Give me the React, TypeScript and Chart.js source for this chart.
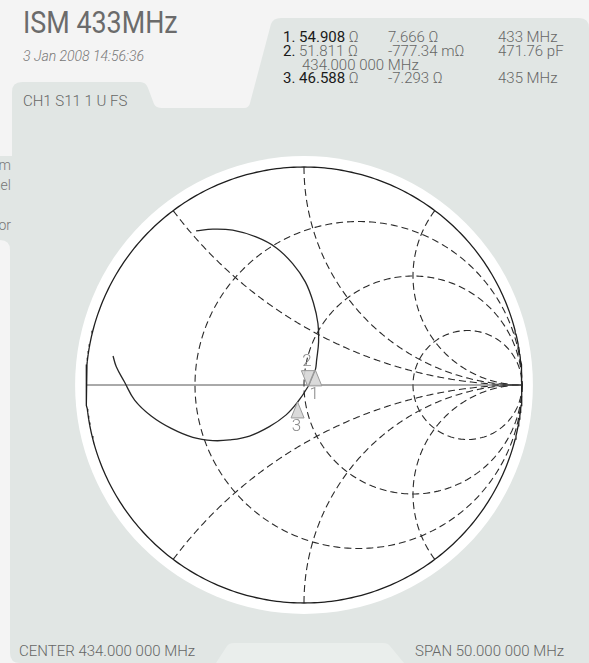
import React, { useEffect, useRef } from "react";
import { Chart, registerables } from "chart.js";

Chart.register(...registerables);

// ---------- data ----------
const Z0 = 50;
const resistanceCircles = [1 / 3, 1, 3];
const reactanceArcs = [0.5, 1, 2, -0.5, -1, -2];

const traceRe = [-0.495, -0.418, -0.327, -0.22, -0.128, -0.052, 0.006, 0.044, 0.064, 0.067, 0.058, 0.052, 0.036, 0.018, -0.029, -0.082, -0.159, -0.25, -0.342, -0.418, -0.51, -0.609, -0.701, -0.777, -0.824, -0.861, -0.876];
const traceIm = [0.707, 0.715, 0.71, 0.679, 0.63, 0.557, 0.473, 0.374, 0.282, 0.198, 0.115, 0.069, 0.032, -0.008, -0.078, -0.137, -0.191, -0.234, -0.252, -0.255, -0.24, -0.199, -0.142, -0.069, 0.015, 0.084, 0.133];

// markers (impedance in ohms)
const markerLabels = ["1", "2", "3"];
const markerR = [54.908, 51.811, 46.588];
const markerX = [7.666, -0.77734, -7.293];
const markerUp = [true, false, true];

const titleText = "ISM 433MHz";
const dateText = "3 Jan 2008 14:56:36";
const channelText = "CH1 S11 1 U FS";
const centerText = "CENTER 434.000 000 MHz";
const spanText = "SPAN 50.000 000 MHz";
const sideTexts = ["Diagram", "Channel", "", "Monitor"];

// ---------- helpers ----------
function gamma(r: number, x: number) {
  const d = (r + 1) * (r + 1) + x * x;
  return { x: (r * r - 1 + x * x) / d, y: (2 * x) / d };
}

function rCircle(r: number) {
  const pts: { x: number; y: number }[] = [];
  const n = 400;
  for (let i = 1; i < n; i++) {
    const th = -Math.PI / 2 + (Math.PI * i) / n;
    pts.push(gamma(r, Math.tan(th)));
  }
  return [{ x: 1, y: 0 }, ...pts, { x: 1, y: 0 }];
}

function xArc(x: number) {
  const pts: { x: number; y: number }[] = [];
  const n = 300;
  for (let i = 0; i < n; i++) {
    const ph = (Math.PI / 2) * (i / n);
    pts.push(gamma(Math.tan(ph), x));
  }
  pts.push({ x: 1, y: 0 });
  return pts;
}

function unitCircle() {
  const pts: { x: number; y: number }[] = [];
  for (let i = 0; i <= 400; i++) {
    const a = (2 * Math.PI * i) / 400;
    pts.push({ x: Math.cos(a), y: Math.sin(a) });
  }
  return pts;
}

const haloPlugin = {
  id: "halo",
  beforeDraw(chart: any) {
    const { ctx, scales } = chart;
    const cx = scales.x.getPixelForValue(0);
    const cy = scales.y.getPixelForValue(0);
    const R = scales.x.getPixelForValue(1) - cx;
    ctx.save();
    ctx.fillStyle = "#ffffff";
    ctx.beginPath();
    ctx.arc(cx, cy, R * 1.05, 0, Math.PI * 2);
    ctx.fill();
    ctx.restore();
  },
};

const markerPlugin = {
  id: "markers",
  afterDatasetsDraw(chart: any) {
    const { ctx, scales } = chart;
    ctx.save();
    markerLabels.forEach((lab, i) => {
      const g = gamma(markerR[i] / Z0, markerX[i] / Z0);
      const px = scales.x.getPixelForValue(g.x);
      const py = scales.y.getPixelForValue(g.y);
      const h = 16;
      const w = 6.5;
      const dir = markerUp[i] ? 1 : -1;
      ctx.beginPath();
      ctx.moveTo(px, py);
      ctx.lineTo(px - w, py + dir * h);
      ctx.lineTo(px + w, py + dir * h);
      ctx.closePath();
      ctx.fillStyle = "rgba(214,214,214,0.9)";
      ctx.fill();
      ctx.strokeStyle = "#9a9a9a";
      ctx.lineWidth = 1;
      ctx.stroke();
      ctx.fillStyle = "#8a8a8a";
      ctx.font = "300 17px Roboto";
      ctx.textAlign = "center";
      ctx.textBaseline = "middle";
      ctx.fillText(lab, px - 1, py + dir * 25);
    });
    ctx.restore();
  },
};

const mk = (s: React.CSSProperties): React.CSSProperties => ({ position: "absolute", whiteSpace: "nowrap", ...s });

export default function App() {
  const ref = useRef<HTMLCanvasElement>(null);

  useEffect(() => {
    document.body.style.margin = "0";
    const gridStyle = {
      showLine: true,
      borderColor: "#2a2a2a",
      borderWidth: 1.1,
      borderDash: [7, 4],
      pointRadius: 0,
      tension: 0,
      clip: false as any,
    };
    const datasets: any[] = [];
    datasets.push({
      data: traceRe.map((v, i) => ({ x: v, y: traceIm[i] })),
      showLine: true,
      borderColor: "#262626",
      borderWidth: 1.3,
      pointRadius: 0,
      tension: 0.4,
      clip: false,
    });
    datasets.push({
      data: unitCircle(),
      showLine: true,
      borderColor: "#1e1e1e",
      borderWidth: 1.3,
      pointRadius: 0,
      clip: false,
    });
    datasets.push({
      data: [{ x: -1, y: 0 }, { x: 1, y: 0 }],
      showLine: true,
      borderColor: "#555555",
      borderWidth: 1,
      pointRadius: 0,
      clip: false,
    });
    resistanceCircles.forEach((r) => datasets.push({ ...gridStyle, data: rCircle(r) }));
    reactanceArcs.forEach((x) => datasets.push({ ...gridStyle, data: xArc(x) }));

    const chart = new Chart(ref.current as HTMLCanvasElement, {
      type: "scatter",
      data: { datasets },
      options: {
        animation: false,
        responsive: false,
        devicePixelRatio: 1,
        events: [],
        layout: { padding: 17 },
        plugins: { legend: { display: false }, tooltip: { enabled: false } },
        scales: {
          x: { type: "linear", min: -1, max: 1, display: false },
          y: { type: "linear", min: -1, max: 1, display: false },
        },
      },
      plugins: [haloPlugin, markerPlugin],
    } as any);
    return () => chart.destroy();
  }, []);

  const grey = "#e1e6e4";
  const light = "#f4f4f4";
  const bold: React.CSSProperties = { fontWeight: 400, color: "#1a1a1a" };

  return (
    <div
      style={{
        position: "fixed",
        left: 0,
        top: 0,
        width: 589,
        height: 663,
        overflow: "hidden",
        background: light,
        fontFamily: "Roboto, 'Noto Sans', sans-serif",
      }}
    >
      <svg width={589} height={663} style={{ position: "absolute", left: 0, top: 0 }}>
        <path
          d="M 12 92 Q 12 82 22 82 L 140 82 Q 146 82 148 88 L 154 104 Q 156 108 162 108 L 244 108 Q 249 108 250 103 L 271 24 Q 273 18 281 18 L 579 18 Q 589 18 589 28 L 589 663 L 20 663 Q 10 663 10 653 L 10 250 Q 10 240 0 240 L 0 156 L 12 156 Z"
          fill={grey}
        />
        <path d="M 216 663 L 227 646 Q 229 643 234 643 L 383 643 Q 388 643 390 646 L 404 663 Z" fill="#eaeeec" />
      </svg>

      <div style={{ position: "absolute", left: 0, top: 150, width: 12, height: 90, overflow: "hidden" }}>
        {sideTexts.map((t, i) => (
          <div key={i} style={mk({ right: 1, top: 7 + i * 20, fontSize: 14, lineHeight: "16px", fontWeight: 300, color: "#777" })}>
            {t}
          </div>
        ))}
      </div>

      <div
        style={mk({
          left: 23,
          top: 5.5,
          fontSize: 32,
          lineHeight: "32px",
          color: "#6b6b6b",
          transform: "scaleX(0.84)",
          transformOrigin: "left center",
        })}
      >
        {titleText}
      </div>
      <div style={mk({ left: 23, top: 48, fontSize: 14, lineHeight: "16px", fontStyle: "italic", fontWeight: 300, color: "#777" })}>
        {dateText}
      </div>
      <div style={mk({ left: 23, top: 93, fontSize: 15, lineHeight: "16px", fontWeight: 300, color: "#666" })}>
        {channelText}
      </div>

      <div style={{ position: "absolute", left: 0, top: 0, fontSize: 15, lineHeight: "16px", fontWeight: 300, color: "#666" }}>
        <div style={mk({ left: 283, top: 28.7 })}>
          <span style={bold}>1. 54.908</span> Ω
        </div>
        <div style={mk({ left: 388, top: 28.7 })}>7.666 Ω</div>
        <div style={mk({ left: 498, top: 28.7 })}>433 MHz</div>

        <div style={mk({ left: 283, top: 43 })}>
          <span style={bold}>2.</span> 51.811 Ω
        </div>
        <div style={mk({ left: 388, top: 43 })}>-777.34 mΩ</div>
        <div style={mk({ left: 498, top: 43 })}>471.76 pF</div>

        <div style={mk({ left: 302, top: 56.5 })}>434.000 000 MHz</div>

        <div style={mk({ left: 283, top: 70 })}>
          <span style={bold}>3. 46.588</span> Ω
        </div>
        <div style={mk({ left: 388, top: 70 })}>-7.293 Ω</div>
        <div style={mk({ left: 498, top: 70 })}>435 MHz</div>
      </div>

      <canvas ref={ref} width={470} height={470} style={{ position: "absolute", left: 69, top: 150 }} />

      <div style={mk({ left: 19, top: 643, fontSize: 15, lineHeight: "16px", fontWeight: 300, color: "#666" })}>{centerText}</div>
      <div style={mk({ left: 415, top: 643, fontSize: 15, lineHeight: "16px", fontWeight: 300, color: "#666" })}>{spanText}</div>
    </div>
  );
}
